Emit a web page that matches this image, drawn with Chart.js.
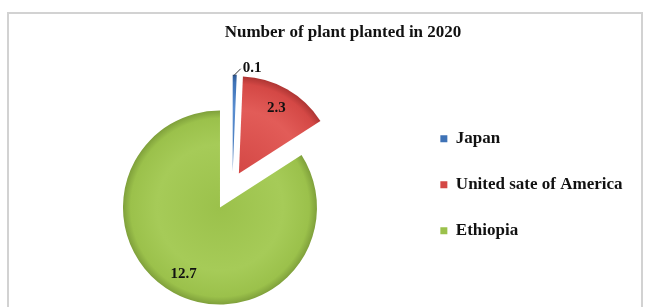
<!DOCTYPE html>
<html>
<head>
<meta charset="utf-8">
<script src="https://cdn.jsdelivr.net/npm/chart.js@4"></script>
<style>
  html, body { margin: 0; padding: 0; background: #fff; overflow: hidden; }
  #wrap { position: relative; width: 648px; height: 307px; overflow: hidden; }
  #frame { position: absolute; left: 7px; top: 12px; width: 636px; height: 320px; border: 2px solid #d2d2d2; box-sizing: border-box; }
  #box { position: absolute; left: 0; top: 0; width: 648px; height: 324px; }
</style>
</head>
<body>
<div id="wrap">
  <div id="frame"></div>
  <div id="box"><canvas id="chart" width="648" height="324"></canvas></div>
</div>
<script>
const countries = ['Japan', 'United sate of America', 'Ethiopia'];
const planted = [0.1, 2.3, 12.7];
const chartTitle = 'Number of plant planted in 2020';

// how far each slice is pulled out of the pie (px)
const explodeBy = [13, 13, 26];
const sliceColors = ['#3e72b6', '#d44845', '#9bc14b'];
const sliceLight  = ['#5a8ed0', '#e25c58', '#a6cb58'];
const sliceDark   = ['#2c5690', '#ad3533', '#7fa03b'];
const serif = '"Liberation Serif", "Times New Roman", serif';

function midAngle(i) {
    const total = planted.reduce((s, v) => s + v, 0);
    const before = planted.slice(0, i).reduce((s, v) => s + v, 0);
    return -Math.PI / 2 + (before + planted[i] / 2) / total * 2 * Math.PI;
}

function sliceFill(context) {
    const i = context.dataIndex;
    const chart = context.chart;
    const a = chart.chartArea;
    if (!a) return sliceColors[i];
    const mid = midAngle(i);
    const cx = (a.left + a.right) / 2 + Math.cos(mid) * explodeBy[i];
    const cy = (a.top + a.bottom) / 2 + Math.sin(mid) * explodeBy[i];
    const g = chart.ctx.createRadialGradient(cx, cy, 0, cx, cy, 97);
    g.addColorStop(0, sliceColors[i]);
    g.addColorStop(0.65, sliceLight[i]);
    g.addColorStop(0.92, sliceColors[i]);
    g.addColorStop(1, sliceDark[i]);
    return g;
}

// move every slice outward along its middle angle
const explode = {
    id: 'explode',
    afterDatasetUpdate(chart, args) {
        chart.getDatasetMeta(args.index).data.forEach((arc, i) => {
            const mid = (arc.startAngle + arc.endAngle) / 2;
            arc.x += Math.cos(mid) * explodeBy[i];
            arc.y += Math.sin(mid) * explodeBy[i];
        });
    }
};

const valueLabels = {
    id: 'valueLabels',
    afterDatasetsDraw(chart) {
        const ctx = chart.ctx;
        const meta = chart.getDatasetMeta(0);
        ctx.save();
        ctx.font = 'bold 15px ' + serif;
        ctx.fillStyle = '#111';
        ctx.strokeStyle = '#333';
        ctx.lineWidth = 1;
        ctx.textBaseline = 'middle';
        meta.data.forEach((arc, i) => {
            const mid = (arc.startAngle + arc.endAngle) / 2;
            const label = String(planted[i]);
            if (planted[i] < 1) {
                // small slice: label outside with a leader line
                const x0 = arc.x + Math.cos(mid) * arc.outerRadius;
                const y0 = arc.y + Math.sin(mid) * arc.outerRadius;
                ctx.beginPath();
                ctx.moveTo(x0 - 1, y0 + 1);
                ctx.lineTo(x0 + 6, y0 - 6);
                ctx.stroke();
                ctx.textAlign = 'left';
                ctx.fillText(label, x0 + 8, y0 - 7);
            } else {
                const r = arc.outerRadius * 0.78;
                ctx.textAlign = 'center';
                ctx.fillText(label, arc.x + Math.cos(mid) * r, arc.y + Math.sin(mid) * r);
            }
        });
        ctx.restore();
    }
};

const ctx = document.getElementById('chart').getContext('2d');
const chart = new Chart(ctx, {
    type: 'pie',
    data: {
        labels: countries,
        datasets: [{
            data: planted,
            backgroundColor: sliceFill,
            borderWidth: 0,
            radius: 97
        }]
    },
    options: {
        responsive: false,
        animation: false,
        layout: { padding: { left: 53.5, right: 15.5, top: 0, bottom: 0 } },
        plugins: {
            title: {
                display: true,
                text: chartTitle,
                color: '#111',
                font: { family: serif, size: 17, weight: 'bold' },
                padding: { top: 22, bottom: 3 }
            },
            legend: {
                position: 'right',
                align: 'center',
                fullSize: false,
                labels: {
                    boxWidth: 7,
                    boxHeight: 7,
                    padding: 29,
                    color: '#111',
                    font: { family: serif, size: 17, weight: 'bold' },
                    generateLabels: () => countries.map((c, i) => ({
                        text: c,
                        fillStyle: sliceColors[i],
                        strokeStyle: sliceColors[i],
                        lineWidth: 0,
                        hidden: false,
                        index: i,
                        fontColor: '#111'
                    }))
                }
            },
            tooltip: { enabled: false }
        }
    },
    plugins: [explode, valueLabels]
});
</script>
</body>
</html>
